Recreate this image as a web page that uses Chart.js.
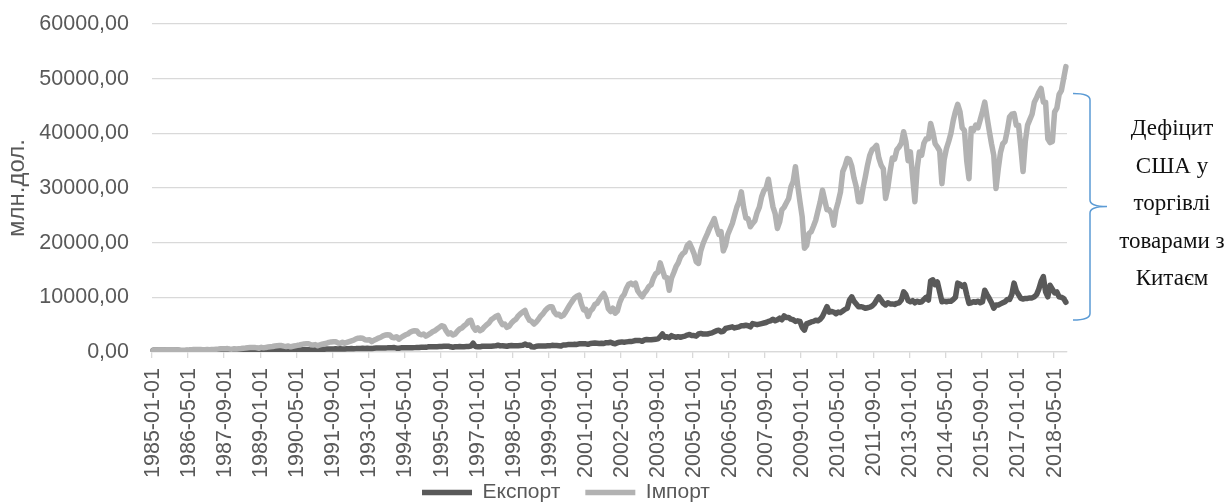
<!DOCTYPE html>
<html>
<head>
<meta charset="utf-8">
<script src="https://cdn.jsdelivr.net/npm/chart.js@4"></script>
<style>
html,body{margin:0;padding:0;background:#fff;overflow:hidden;}
#wrap{position:relative;width:1231px;height:502px;overflow:hidden;}
#box{position:absolute;left:0;top:0;width:1132px;height:502px;}
#brace{position:absolute;left:0;top:0;}
#note{position:absolute;left:1102px;top:109px;width:140px;text-align:center;font-family:'Liberation Serif',serif;font-size:23px;line-height:37.5px;color:#111;white-space:nowrap;}
</style>
</head>
<body>
<div id="wrap">
  <div id="box"><canvas id="c"></canvas></div>
  <svg id="brace" width="1231" height="502"><path d="M1073,93.5 Q1090,93.5 1090,100 L1090,200 Q1090,206.5 1107,206.5 Q1090,206.5 1090,213 L1090,313.5 Q1090,320 1073,320" fill="none" stroke="#5b9bd5" stroke-width="1.5"/></svg>
  <div id="note">Дефіцит<br>США у<br>торгівлі<br>товарами з<br>Китаєм</div>
</div>
<script>
// Monthly values, million USD, 1985-01 .. 2018-10
const seriesNames = ['Експорт', 'Імпорт'];
const exportsData = [
  300,310,330,320,310,320,330,320,310,340,330,330,
  260,230,250,260,250,240,250,260,270,280,270,280,
  270,250,280,290,290,290,290,300,300,320,310,300,
  360,350,380,390,410,420,430,440,430,450,460,500,
  480,450,470,500,490,480,450,470,480,490,500,490,
  420,380,390,380,400,390,400,390,410,420,410,420,
  450,430,480,500,520,530,540,530,550,580,560,610,
  560,540,580,600,620,610,620,640,640,680,650,680,
  640,620,690,720,730,720,740,740,760,800,780,820,
  700,680,760,770,780,760,760,770,800,820,820,860,
  880,850,950,960,980,970,980,1000,1020,1050,1040,1070,
  950,880,960,980,990,970,980,1000,1020,1080,1600,1010,
  980,950,1050,1040,1060,1050,1060,1100,1120,1250,1120,1150,
  1100,1050,1150,1180,1150,1160,1150,1200,1230,1450,1250,1300,
  950,900,1050,1080,1100,1100,1080,1150,1130,1220,1180,1200,
  1150,1100,1300,1280,1350,1370,1350,1400,1380,1500,1500,1500,
  1500,1400,1550,1600,1650,1600,1550,1600,1550,1700,1700,1780,
  1600,1500,1700,1800,1850,1800,1850,1900,1900,2000,2100,2100,
  2100,1950,2200,2300,2250,2250,2300,2350,2400,2800,3300,2700,
  2800,2600,3000,2800,2700,2800,2700,2800,2900,3100,3200,3000,
  3000,2900,3300,3400,3300,3300,3300,3400,3500,3700,3900,4000,
  3700,3800,4300,4400,4500,4600,4400,4500,4600,4800,4800,4900,
  4800,4600,5200,5100,5000,5100,5200,5300,5400,5600,5700,6000,
  5700,5900,6200,5900,6600,6300,6300,6000,5900,5600,5700,5600,
  4500,4000,5200,5300,5500,5600,5800,5700,6000,6500,7400,8300,
  7300,7400,7300,7000,7300,7200,7500,7800,8000,9500,10100,9300,
  8800,8300,8300,8200,8000,8100,8200,8400,8800,9500,10100,9500,
  8900,8600,9000,8800,8800,8700,8900,9000,9500,11000,10500,9400,
  9200,9400,9000,9300,9100,9200,9600,10000,9500,13000,13200,12300,
  12800,11000,9200,9300,9200,9300,9300,9600,10000,12600,12400,12000,
  12300,10500,8900,9000,9200,9100,9300,9000,9200,11300,10500,9800,
  9000,8000,8600,8600,8800,9000,9200,9600,9600,10500,12600,11200,
  10500,9800,9700,9800,9800,9900,9900,10100,10500,11500,12900,13800,
  11000,10100,12200,11500,10800,11000,10100,10000,9800,9100
];
const importsData = [
  290,250,280,300,320,330,350,360,360,380,330,310,
  340,300,330,360,390,400,440,450,460,470,430,400,
  450,400,440,470,510,530,580,600,610,620,560,520,
  600,540,600,640,690,720,780,810,830,840,760,700,
  850,760,840,900,960,1000,1100,1150,1170,1180,1070,1010,
  1100,950,1050,1130,1220,1280,1400,1480,1500,1500,1330,1290,
  1350,1150,1300,1420,1520,1600,1760,1850,1880,1880,1660,1600,
  1800,1600,1750,1900,2050,2180,2400,2520,2550,2520,2250,2200,
  2250,1900,2150,2350,2550,2700,2950,3100,3150,3100,2700,2600,
  2800,2350,2650,2900,3150,3300,3600,3800,3900,3850,3300,3150,
  3300,2900,3150,3400,3700,3900,4200,4500,4800,4700,3900,3300,
  3500,3100,3300,3800,4200,4400,4800,5100,5700,5800,4600,4000,
  4400,3900,4100,4600,5000,5300,5900,6200,6500,6700,5700,5000,
  5100,4500,4700,5300,5700,6000,6600,7000,7300,7600,6500,5800,
  5600,5100,5500,6000,6600,7000,7600,8000,8300,8300,7300,6800,
  6900,6500,6700,7300,8000,8700,9300,9900,10200,10400,8800,7700,
  7800,6500,7500,7900,8700,8900,9600,10200,10700,9700,7900,7400,
  8000,7100,7500,9000,10000,10500,11600,12400,12600,12300,12600,11200,
  10600,10100,10800,11300,12000,12300,13500,14300,14600,16300,15000,13700,
  13600,11300,13500,14500,15600,16300,17400,18000,18300,19500,19900,19000,
  18000,16500,16200,18500,19800,20800,21700,22700,23500,24400,22800,21500,
  22000,18500,19500,21500,22500,23500,25000,26500,27500,29300,26500,24500,
  24400,22900,23500,24000,25500,26500,28400,29500,30000,31600,29000,26600,
  25300,22600,23800,26000,26500,27300,28100,30200,31200,33900,30500,27500,
  24700,19000,19500,21700,22000,23000,24100,25800,27500,29600,27800,26000,
  26000,25300,23200,26000,27500,29300,33000,34000,35400,35200,34000,31800,
  30200,27500,27500,30000,32000,34200,36000,37000,37300,37800,35500,34200,
  33500,28100,30000,33000,35500,35300,37000,37500,38200,40300,38500,35000,
  36600,32000,27500,33500,36600,36000,38200,39000,39000,41800,40200,38100,
  37500,36800,30800,35200,37200,38500,40000,42300,44000,45300,44000,41000,
  40500,35000,31700,40900,40500,41500,41000,42500,44000,45700,43000,40500,
  38100,36000,29900,33500,36500,38100,38500,40500,43000,43500,43600,41500,
  41500,37500,33000,38500,41500,42500,43500,45700,46500,47500,48200,45700,
  45700,39000,38300,38500,43900,44600,47100,47800,50000,52200
];
// Category labels: first day of each month from 1985-01
const firstYear = 1985;
const monthLabels = importsData.map((_, i) =>
  (firstYear + Math.floor(i / 12)) + '-' + String(i % 12 + 1).padStart(2, '0') + '-01');
const labelEvery = 16;
const yTicks = [0, 10000, 20000, 30000, 40000, 50000, 60000];

const FONT = "'Liberation Sans', Arial, sans-serif";
const FS = 21.5;
const TXT = '#595959';
const GRID = '#d9d9d9';

new Chart(document.getElementById('c'), {
  type: 'line',
  data: {
    labels: monthLabels,
    datasets: [
      { label: seriesNames[0], data: exportsData, borderColor: '#595959', backgroundColor: '#595959',
        borderWidth: 5.5, pointRadius: 0, tension: 0, borderJoinStyle: 'round', borderCapStyle: 'round', order: 1 },
      { label: seriesNames[1], data: importsData, borderColor: '#b2b2b2', backgroundColor: '#b2b2b2',
        borderWidth: 5.5, pointRadius: 0, tension: 0, borderJoinStyle: 'round', borderCapStyle: 'round', order: 0 }
    ]
  },
  options: {
    responsive: true,
    maintainAspectRatio: false,
    animation: false,
    layout: { padding: { top: 24, left: 0, right: 0, bottom: -11 } },
    plugins: {
      tooltip: { enabled: false },
      legend: {
        position: 'bottom',
        labels: {
          usePointStyle: true, pointStyle: 'line', pointStyleWidth: 50,
          color: TXT, font: { family: FONT, size: 21 }, padding: 25,
          sort: (a, b) => a.datasetIndex - b.datasetIndex
        }
      }
    },
    scales: {
      x: {
        offset: true,
        grid: {
          offset: true, drawOnChartArea: false, drawTicks: true, tickLength: 6, lineWidth: 1.3,
          color: c => (c.index % labelEvery === 0 ? GRID : 'rgba(0,0,0,0)'),
          tickColor: c => (c.index % labelEvery === 0 ? GRID : 'rgba(0,0,0,0)')
        },
        border: { display: true, color: GRID, width: 1.3 },
        ticks: {
          autoSkip: false, maxRotation: 90, minRotation: 90, padding: 10,
          color: TXT, font: { family: FONT, size: FS },
          callback: (v, i) => (i % labelEvery === 0 ? monthLabels[i] : '')
        },
        afterFit: s => { s.height = 105; s._computeLabelArea = () => undefined; }
      },
      y: {
        min: 0, max: 60000,
        afterBuildTicks: s => { s.ticks = yTicks.map(v => ({ value: v })); },
        ticks: {
          padding: 23, color: TXT, font: { family: FONT, size: FS },
          callback: v => Number(v).toFixed(2).replace('.', ',')
        },
        grid: { color: GRID, lineWidth: 1.3, drawTicks: false },
        border: { display: false },
        title: { display: true, text: 'млн.дол.', color: TXT, font: { family: FONT, size: 24 }, padding: { top: 3, bottom: 0 } },
        afterFit: s => { s.width = 152; s.paddingTop = 0; s.paddingBottom = 0; }
      },
      yr: {
        position: 'right', display: true,
        grid: { display: false }, ticks: { display: false }, border: { display: false },
        afterFit: s => { s.width = 65; s.paddingTop = 0; s.paddingBottom = 0; }
      }
    }
  }
});
</script>
</body>
</html>
